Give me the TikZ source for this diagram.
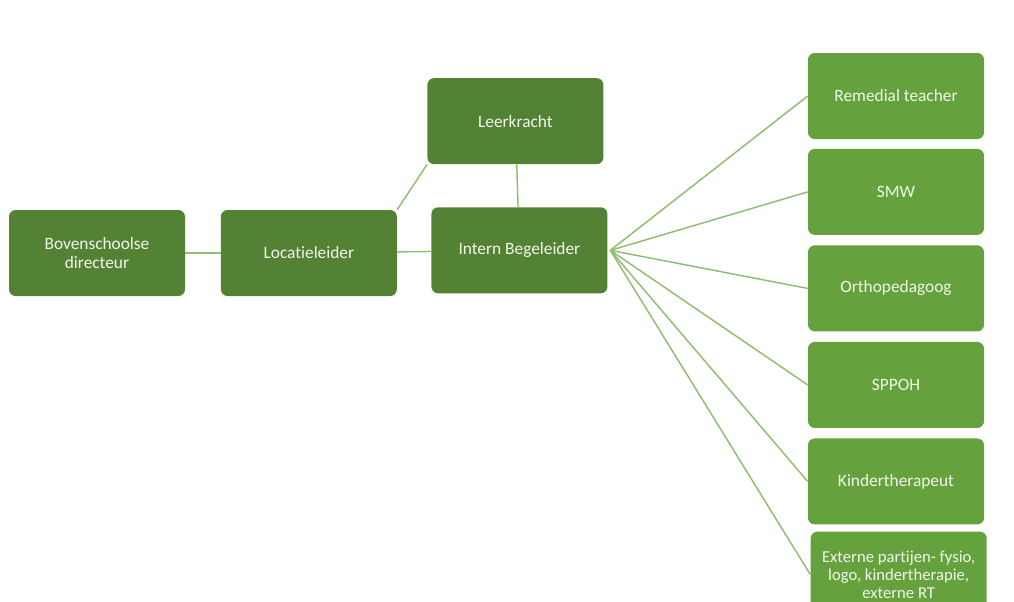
\documentclass[tikz,border=0pt]{standalone}
\usepackage{fontspec}
\setmainfont{Carlito}[Ligatures=NoCommon]
\usetikzlibrary{positioning}
\definecolor{donker}{HTML}{548235}
\definecolor{licht}{HTML}{65A13D}
\definecolor{lijn}{HTML}{90BC74}
\definecolor{tekst}{HTML}{F2F6EC}

\tikzset{
  rol/.style={rectangle, rounded corners=5pt, fill=donker, text=tekst,
    minimum width=132pt, minimum height=64.5pt, align=center,
    font=\fontsize{13}{14.5}\selectfont},
  extern/.style={rol, fill=licht},
  verband/.style={draw=lijn, line width=1.1pt}
}

\begin{document}
\begin{tikzpicture}[x=0.75pt, y=-0.75pt, node distance=26.5pt]

  \useasboundingbox (0,0) rectangle (1014,601);
  \clip (0,0) rectangle (1014,601);

  % Define nodes
  \node[rol] at (97,253)                 (bov) {Bovenschoolse\\directeur};
  \node[rol, right=of bov]               (loc) {Locatieleider};
  \node[rol, right=25.5pt of loc, yshift=2pt] (ib)  {Intern Begeleider};
  \node[rol, above=32pt of ib, xshift=-3pt] (lk) {Leerkracht};

  \node[extern] at (896,96)              (rt)    {Remedial teacher};
  \node[extern, below=7pt of rt]         (smw)   {SMW};
  \node[extern, below=7.5pt of smw]      (ortho) {Orthopedagoog};
  \node[extern, below=7.5pt of ortho]    (sppoh) {SPPOH};
  \node[extern, below=7.5pt of sppoh]    (kind)  {Kindertherapeut};
  \node[extern, below=5pt of kind, xshift=2pt, inner ysep=2pt,
        font=\fontsize{12.5}{13.5}\selectfont]
                                         (ext)   {Externe partijen- fysio,\\logo, kindertherapie,\\externe RT};

  \coordinate[right=2pt of ib] (fan);

  % Connect the nodes
  \draw[verband] (bov) -- (loc);
  \draw[verband] (loc) -- (ib);
  \draw[verband] (loc.north east) -- (lk.south west);
  \draw[verband] (lk) -- (ib);
  \foreach \n in {rt,smw,ortho,sppoh,kind,ext}
    \draw[verband] (fan) -- (\n.west);

\end{tikzpicture}
\end{document}
